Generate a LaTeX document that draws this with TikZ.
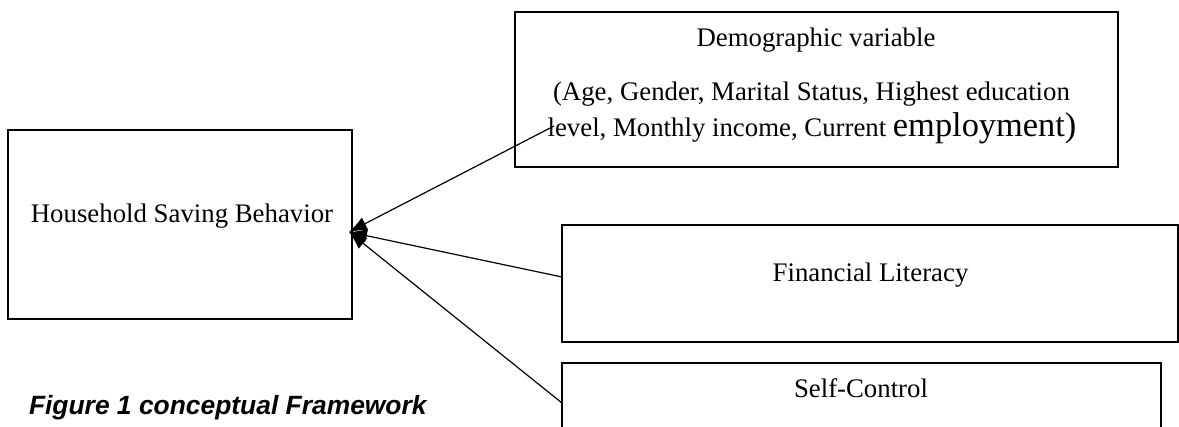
\documentclass[tikz,border=0pt]{standalone}
\usepackage{fontspec}
\setmainfont{Liberation Serif}
\newfontfamily\capfont{Liberation Sans}
\usetikzlibrary{arrows.meta}
\begin{document}
\begin{tikzpicture}[x=0.5pt,y=-0.5pt,
  box/.style={draw=black,line width=1.3pt,inner sep=0pt,outer sep=0pt},
  txt/.style={inner sep=0pt,outer sep=0pt,anchor=base,font=\fontsize{13.4}{15}\selectfont},
  arr/.style={line width=0.6pt,-{Latex[length=9pt,width=7pt]}}]
\clip (0,0) rectangle (1179,427);
\fill[white] (0,0) rectangle (1179,427);
% boxes
\node[box,minimum width=172pt,minimum height=94.5pt] (hsb) at (180,224.5) {};
\node[box,minimum width=301.5pt,minimum height=77.5pt] (demo) at (816.5,89.5) {};
\node[box,minimum width=308pt,minimum height=58.5pt] (fin) at (870,283.5) {};
\node[box,minimum width=299.5pt,minimum height=50pt] (self) at (861.5,413) {};
% texts
\node[txt] (hsbt) at (182,223) {Household Saving Behavior};
\node[txt] (demot1) at (816,47) {Demographic variable};
\node[txt] (demot2) at (811.5,101) {(Age, Gender, Marital Status, Highest education};
\node[txt] (demot3) at (812,137) {level, Monthly income, Current {\fontsize{17.2}{19}\selectfont employment)}};
\node[txt] (fint) at (870.5,282) {Financial Literacy};
\node[txt] (selft) at (861,398) {Self-Control};
\node[txt,anchor=base west,font=\capfont\bfseries\itshape\fontsize{13.2}{15}\selectfont] (cap) at (29,415) {Figure 1 conceptual Framework};
% connectors
\coordinate (tip) at (349,232);
\coordinate (ds) at (554,126);
\coordinate (fs) at (562,277);
\coordinate (ss) at (562,403);
\draw[arr] (ds) -- (tip);
\draw[arr] (fs) -- (tip);
\draw[arr] (ss) -- (tip);
\end{tikzpicture}
\end{document}
